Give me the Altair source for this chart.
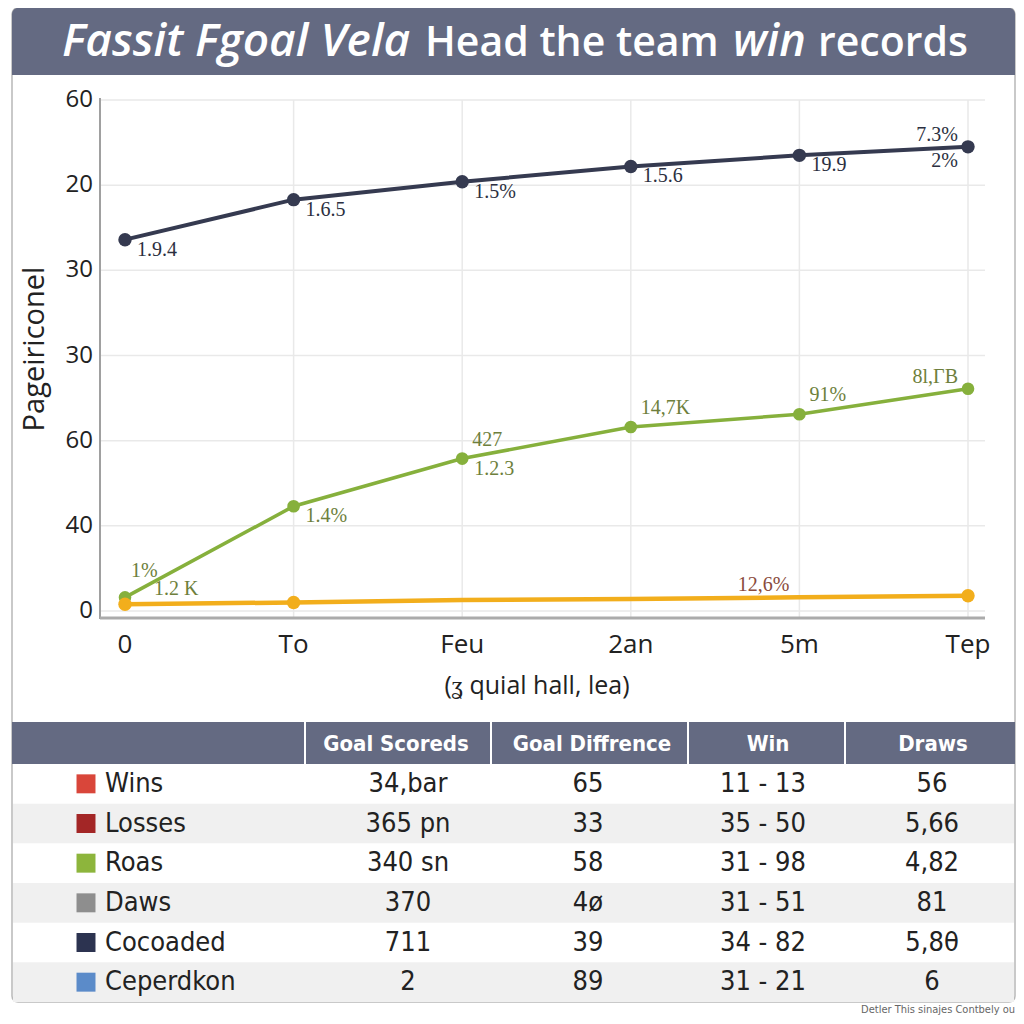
import altair as alt
import pandas as pd

# ---------------- data ----------------
categories = ["0", "To", "Feu", "2an", "5m", "Tep"]
dark_values = [43.6, 48.3, 50.4, 52.2, 53.5, 54.5]
green_values = [1.6, 12.3, 17.9, 21.6, 23.1, 26.1]
yellow_values = [0.8, 1.0, 1.3, 1.4, 1.6, 1.8]
yellow_marker = [True, True, False, False, False, True]

y_tick_values = [0, 10, 20, 30, 40, 50, 60]
y_tick_labels = ["0", "40", "60", "30", "30", "20", "60"]

label_series = ["dark"] * 7 + ["green"] * 8 + ["yellow"]
label_cat = ["0", "To", "Feu", "2an", "5m", "Tep", "Tep",
             "0", "0", "To", "Feu", "Feu", "2an", "5m", "Tep",
             "5m"]
label_text = ["1.9.4", "1.6.5", "1.5%", "1.5.6", "19.9", "7.3%", "2%",
              "1%", "1.2 K", "1.4%", "427", "1.2.3", "14,7K", "91%", "8l,ΓB",
              "12,6%"]
label_place = ["br", "br", "br", "br", "br", "al", "bl",
               "a0", "r2", "br", "ar", "br", "ar", "ar", "al",
               "al"]

title_parts = ["Fassit Fgoal Vela", "Head the team", "win", "records"]
y_title = "Pageiriconel"
x_title = "(ʓ quial hall, lea)"

row_names = ["Wins", "Losses", "Roas", "Daws", "Cocoaded", "Ceperdkon"]
col_headers = ["Goal Scoreds", "Goal Diffrence", "Win", "Draws"]
goal_scoreds = ["34,bar", "365 pn", "340 sn", "370", "711", "2"]
goal_diff = ["65", "33", "58", "4ø", "39", "89"]
win_col = ["11 - 13", "35 - 50", "31 - 98", "31 - 51", "34 - 82", "31 - 21"]
draws = ["56", "5,66", "4,82", "81", "5,8θ", "6"]
footer = "Detler This sinajes Contbely ou"

# ---------------- styles / layout ----------------
HEAD = "#646a82"
row_colors = ["#d9463a", "#a32626", "#8db53c", "#8e8e8e", "#2c3350", "#5b8bc9"]
line_styles = {"dark": ("#353a50", 4, 180), "green": ("#86b03c", 3.5, 160), "yellow": ("#f2ae1c", 4.5, 180)}
label_colors = ["#2b2f40", "#6e7f3c", "#8a4b3c"]
places = {"br": ("left", 12, 10), "ar": ("left", 10, -19), "al": ("right", -10, -12),
          "bl": ("right", -10, 14), "r2": ("left", 29, -8), "a0": ("left", 6, -26)}
SANS = "Open Sans"
NARROW = "Liberation Sans Narrow, DejaVu Sans Condensed, Roboto"
SERIF = "Liberation Serif, DejaVu Serif"

# ---------------- frames ----------------
vals = []
for s, arr in [("dark", dark_values), ("green", green_values), ("yellow", yellow_values)]:
    for i, (c, v) in enumerate(zip(categories, arr)):
        vals.append({"series": s, "cat": c, "value": v, "idx": i,
                     "marker": (yellow_marker[i] if s == "yellow" else True)})
vals = pd.DataFrame(vals)
lab = pd.DataFrame({"series": label_series, "cat": label_cat, "text": label_text, "place": label_place})
lab = lab.merge(vals[["series", "cat", "value"]], on=["series", "cat"], how="left")
ticks = pd.DataFrame({"tick": y_tick_values, "label": y_tick_labels})
cats = pd.DataFrame({"cat": categories, "idx": list(range(len(categories)))})
table = pd.DataFrame({"row": row_names, "gs": goal_scoreds, "gd": goal_diff, "win": win_col,
                      "dr": draws, "i": list(range(len(row_names)))})
one = pd.DataFrame({"a": [0]})

xs = alt.Scale(type="point", domain=categories, range=[117, 960], padding=0)
ys = alt.Scale(type="linear", domain=[0, 60], range=[603, 92], nice=False, zero=False)
rs = alt.Scale(type="band", domain=row_names, range=[756, 994], paddingInner=0, paddingOuter=0)
X = alt.X("cat:N", scale=xs, axis=None)
Y = alt.Y("value:Q", scale=ys, axis=None)
RY = alt.Y("row:N", scale=rs, axis=None)

layers = []
# outer frame and title bar
layers.append(alt.Chart(one).mark_rect(fill="white", stroke="#b8b8b8", strokeWidth=1.5, cornerRadius=6).encode(
    x=alt.value(4), x2=alt.value(1007), y=alt.value(0), y2=alt.value(994)))
layers.append(alt.Chart(one).mark_rect(color=HEAD, cornerRadiusTopLeft=6, cornerRadiusTopRight=6).encode(
    x=alt.value(4), x2=alt.value(1007), y=alt.value(0), y2=alt.value(67)))
title_x = [54, 417, 725, 810]
title_it = [True, False, True, False]
title_sz = [46, 41, 45, 41]
for t, xx, it, fs in zip(title_parts, title_x, title_it, title_sz):
    layers.append(alt.Chart(one).mark_text(text=t, align="left", baseline="alphabetic", fontSize=fs,
                                           font=SANS, fontWeight=600, color="white",
                                           fontStyle=("italic" if it else "normal")).encode(
        x=alt.value(xx), y=alt.value(48)))

# gridlines
layers.append(alt.Chart(ticks).mark_rule(color="#e9e9e9", strokeWidth=1.5).encode(
    y=alt.Y("tick:Q", scale=ys, axis=None), x=alt.value(92), x2=alt.value(977)))
layers.append(alt.Chart(cats).transform_filter("datum.idx > 0").mark_rule(color="#e9e9e9", strokeWidth=1.5).encode(
    x=X, y=alt.value(92), y2=alt.value(610)))
# axis lines
layers.append(alt.Chart(one).mark_rule(color="#a0a0a0", strokeWidth=2).encode(
    x=alt.value(92), y=alt.value(90), y2=alt.value(611)))
layers.append(alt.Chart(one).mark_rule(color="#ababab", strokeWidth=3).encode(
    x=alt.value(92), x2=alt.value(977), y=alt.value(610)))
# tick labels
layers.append(alt.Chart(ticks).mark_text(align="right", baseline="middle", fontSize=24, font=SANS, color="#222").encode(
    y=alt.Y("tick:Q", scale=ys, axis=None), x=alt.value(85), text="label:N"))
layers.append(alt.Chart(cats).mark_text(align="center", baseline="middle", fontSize=26, font=SANS, color="#222").encode(
    x=X, y=alt.value(637), text="cat:N"))
layers.append(alt.Chart(one).mark_text(text=x_title, align="center", baseline="middle", fontSize=25, font=SANS, color="#222").encode(
    x=alt.value(529), y=alt.value(678)))
layers.append(alt.Chart(one).mark_text(text=y_title, align="center", baseline="middle", angle=270, fontSize=29, font=SANS, color="#222").encode(
    x=alt.value(27), y=alt.value(341)))

# lines + points
for s in ["dark", "green", "yellow"]:
    col, w, sz = line_styles[s]
    d = vals[vals.series == s]
    layers.append(alt.Chart(d).mark_line(color=col, strokeWidth=w).encode(x=X, y=Y, order="idx:Q"))
    layers.append(alt.Chart(d).transform_filter("datum.marker").mark_circle(color=col, opacity=1, size=sz).encode(x=X, y=Y))

# value labels
for p, (al, dx, dy) in places.items():
    d = lab[lab.place == p]
    if len(d) == 0:
        continue
    layers.append(alt.Chart(d).mark_text(align=al, baseline="middle", dx=dx, dy=dy, fontSize=20, font=SERIF).encode(
        x=X, y=Y, text="text:N",
        color=alt.Color("series:N", scale=alt.Scale(domain=["dark", "green", "yellow"], range=label_colors), legend=None)))

# table
layers.append(alt.Chart(one).mark_rect(color=HEAD).encode(
    x=alt.value(4), x2=alt.value(1007), y=alt.value(714), y2=alt.value(756)))
for sx in [297, 483, 680, 837]:
    layers.append(alt.Chart(one).mark_rule(color="white", strokeWidth=2).encode(
        x=alt.value(sx), y=alt.value(714), y2=alt.value(756)))
head_x = [388, 584, 760, 925]
for h, hx in zip(col_headers, head_x):
    layers.append(alt.Chart(one).mark_text(text=h, align="center", baseline="middle", fontSize=22, font=NARROW,
                                           fontWeight="bold", color="white").encode(x=alt.value(hx), y=alt.value(736)))
layers.append(alt.Chart(table).transform_filter("datum.i % 2 == 1").mark_rect(color="#f0f0f0").encode(
    y=RY, x=alt.value(5), x2=alt.value(1006)))
layers.append(alt.Chart(table).mark_point(shape="square", filled=True, opacity=1, size=360).encode(
    y=RY, x=alt.value(78),
    color=alt.Color("row:N", scale=alt.Scale(domain=row_names, range=row_colors), legend=None)))
layers.append(alt.Chart(table).mark_text(align="left", baseline="middle", fontSize=27, font=NARROW, color="#222").encode(
    y=RY, x=alt.value(97), text="row:N"))
cell_x = [400, 580, 755, 924]
for f, cx in zip(["gs", "gd", "win", "dr"], cell_x):
    layers.append(alt.Chart(table).mark_text(align="center", baseline="middle", fontSize=27, font=NARROW, color="#222").encode(
        y=RY, x=alt.value(cx), text=f"{f}:N"))
layers.append(alt.Chart(one).mark_text(text=footer, align="right", baseline="middle", fontSize=11, font=NARROW, color="#666").encode(
    x=alt.value(1007), y=alt.value(1002)))

chart = alt.layer(*layers).resolve_scale(x="independent", y="independent", color="independent").properties(
    width=1008, height=1008, autosize=alt.AutoSizeParams(type="none"), padding=0
).configure_view(strokeWidth=0)

chart.save("out.html", embed_options={"renderer": "svg", "actions": False})
